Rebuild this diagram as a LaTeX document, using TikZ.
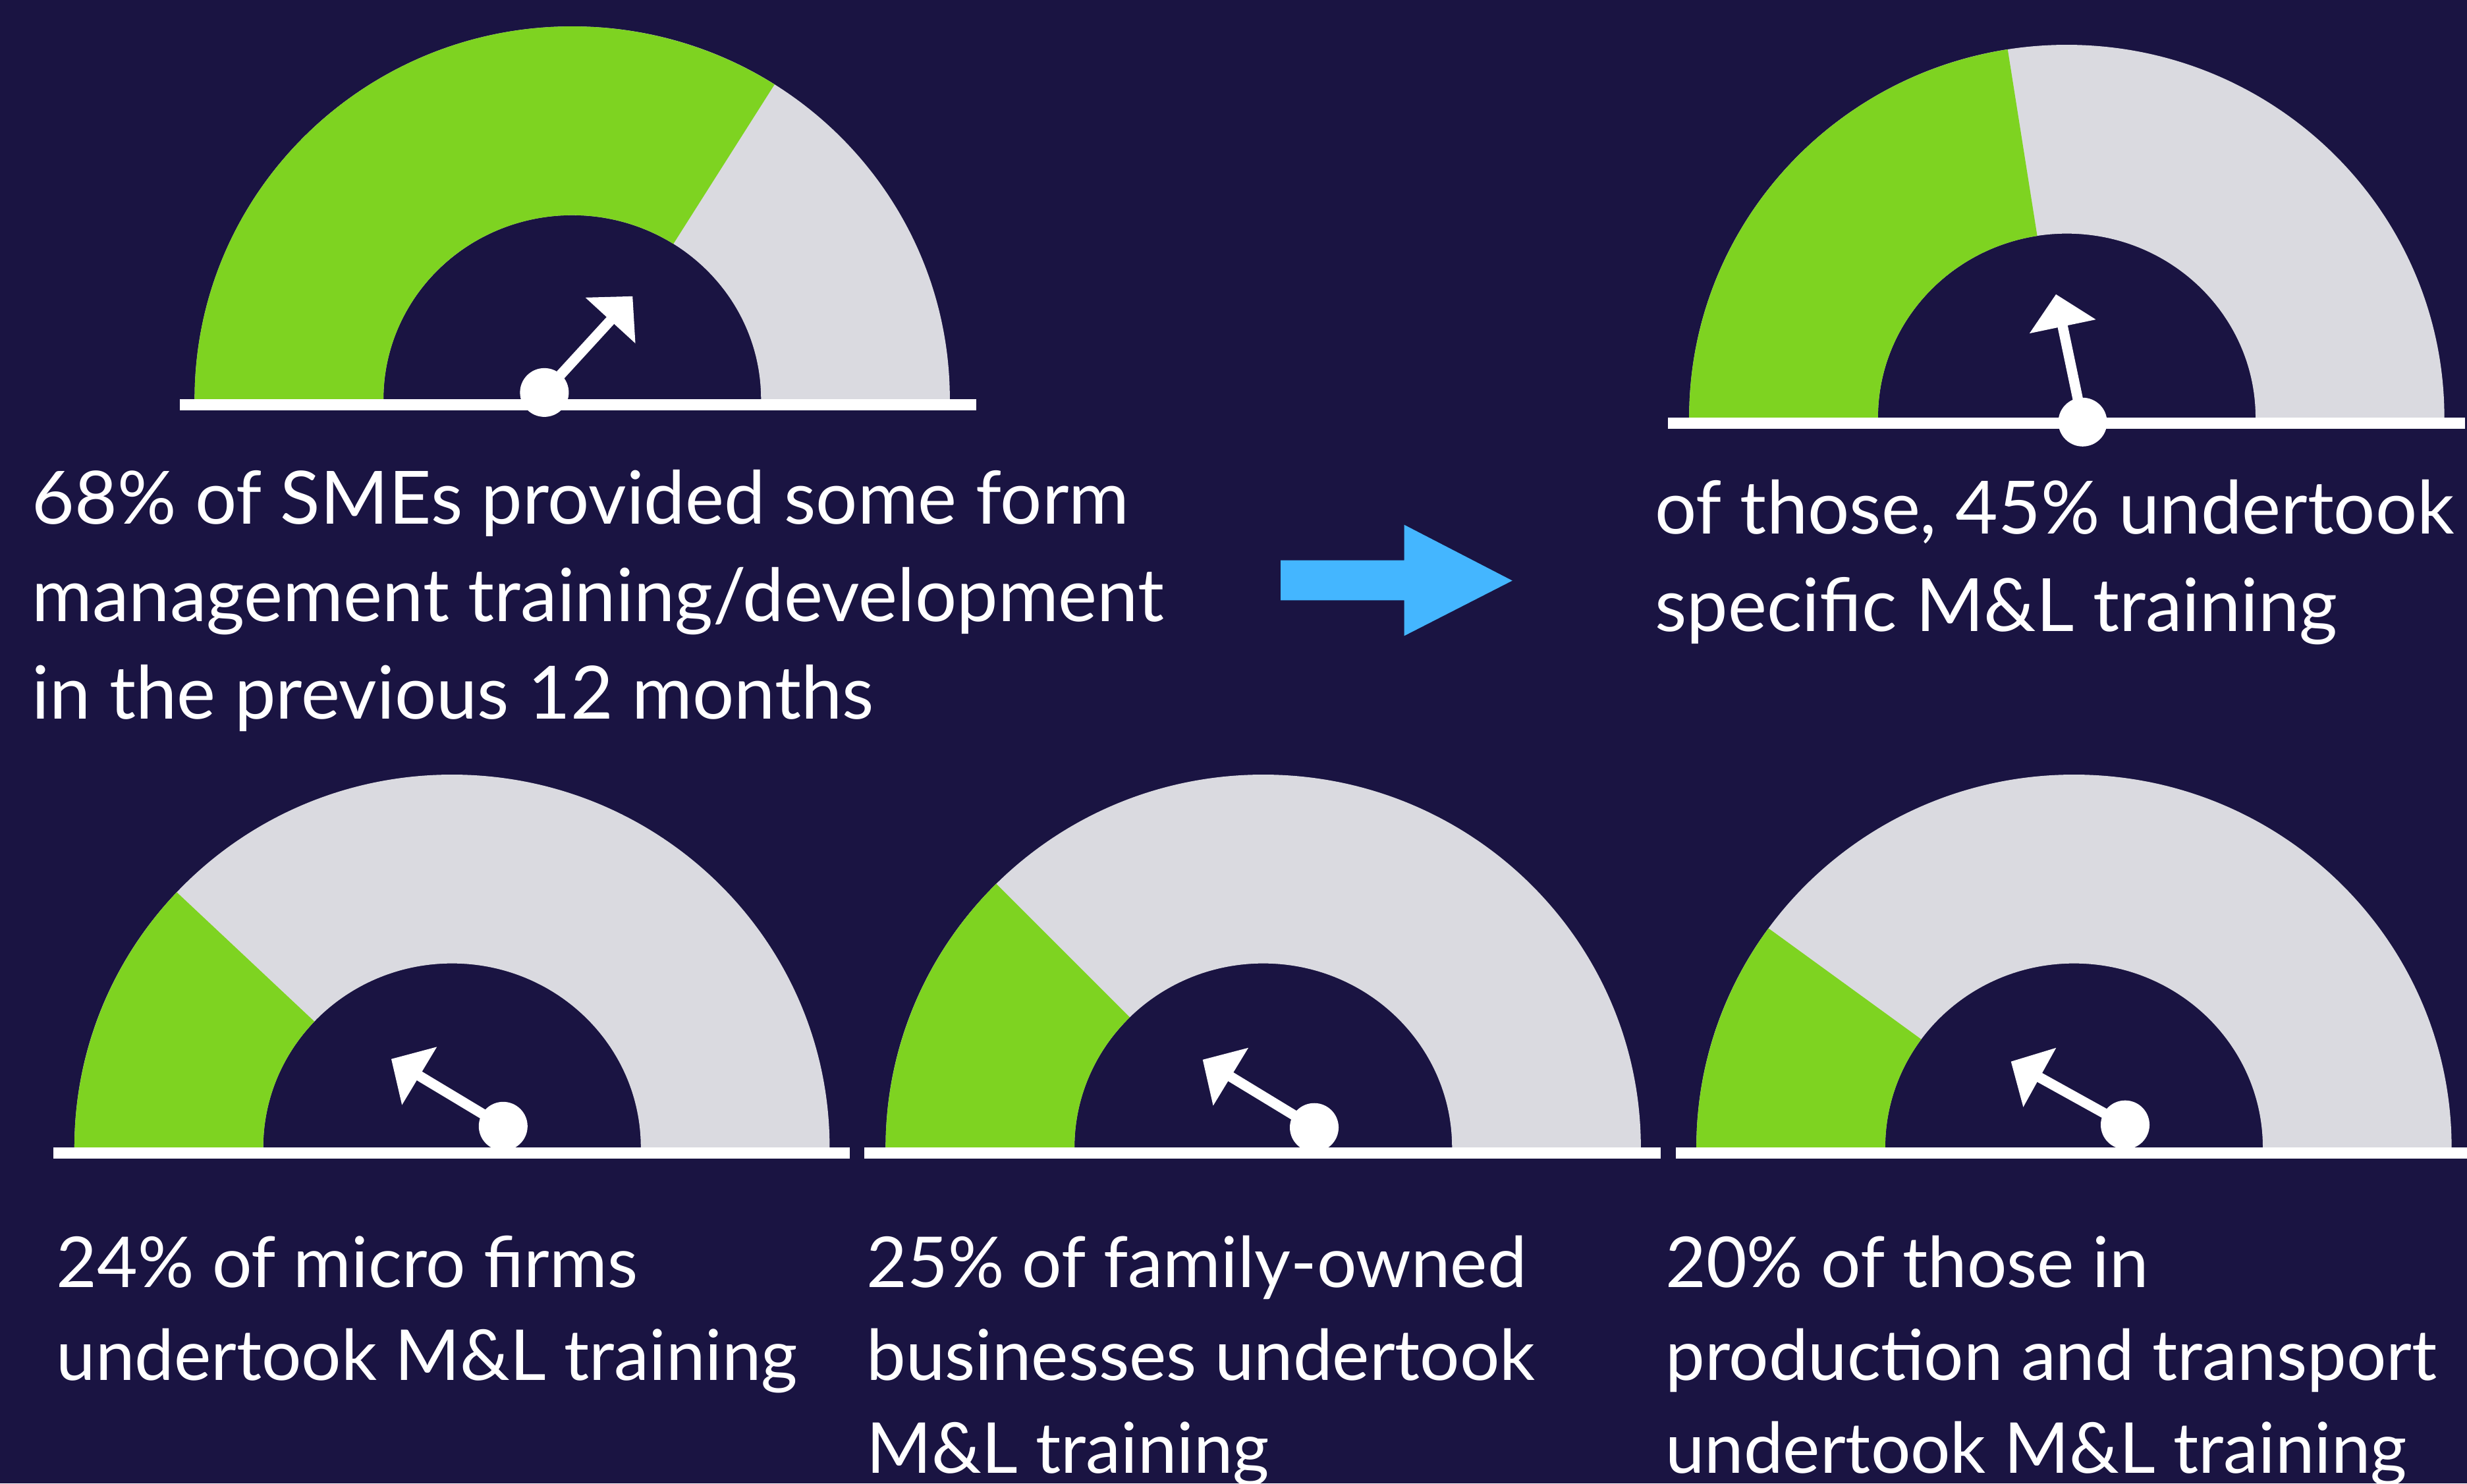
\documentclass[tikz,border=0pt]{standalone}
\usepackage{fontspec}
\setmainfont{Lato}
\usetikzlibrary{arrows.meta}
\definecolor{bgnavy}{HTML}{1A1442}
\definecolor{gaugegreen}{HTML}{7ED321}
\definecolor{gaugegrey}{HTML}{DADAE0}
\definecolor{arrowblue}{HTML}{44B6FF}

\begin{document}
\begin{tikzpicture}[x=0.02cm,y=0.02cm,
  stat/.style={anchor=base west,inner sep=0pt,align=left,text=white,font=\fontsize{26.6pt}{35.3pt}\selectfont},
  statsmall/.style={stat,font=\fontsize{25.4pt}{33.6pt}\selectfont},
  needle/.style={white,line width=3.7pt,line cap=butt,-{Triangle[length=11.9pt,width=23.8pt]}}]
  \fill[bgnavy] (0,0) rectangle (1568,943);
  \useasboundingbox (0,0) rectangle (1568,943);
  \foreach \i/\cx/\cy/\a/\xa/\xb/\px/\py/\na in {
      1/363.7/689.2/57.6/114.4/620.6/346/693.5/47.5,
      2/1313.6/677.5/99/1060.2/1566.6/1323.7/674.7/101.8,
      3/287.3/213.6/136.8/34/540.3/319.8/227.1/149,
      4/802.9/213.6/135/549.4/1055.7/835.3/226.3/148.7,
      5/1318.2/213.6/144/1065.3/1568/1350.7/228/151} {
    \begin{scope}[shift={(\cx,\cy)}]
      \fill[gaugegrey] (180:240 and 237) arc[start angle=180,end angle=0,x radius=240,y radius=237]
        -- (0:120 and 117) arc[start angle=0,end angle=180,x radius=120,y radius=117] -- cycle;
      \fill[gaugegreen] (180:240 and 237) arc[start angle=180,end angle=\a,x radius=240,y radius=237]
        -- (\a:120 and 117) arc[start angle=\a,end angle=180,x radius=120,y radius=117] -- cycle;
    \end{scope}
    \fill[white] (\xa,\cy-7.2) rectangle (\xb,\cy);
    \coordinate (piv\i) at (\px,\py);
    \draw[needle] (piv\i) -- ++(\na:83) coordinate (tip\i);
    \fill[white] (piv\i) circle[radius=15.5];
  }
  \fill[arrowblue] (814,586.8) -- (892.5,586.8) -- (892.5,609.4) -- (961.2,573.9)
    -- (892.5,538.8) -- (892.5,561.4) -- (814,561.4) -- cycle;
  \node[stat] (sme) at (20,485.9) {68\% of SMEs provided some form\\management training/development\\in the previous 12 months};
  \node[stat] (specific) at (1051.5,541.7) {of those, 45\% undertook\\specific M\&L training};
  \node[statsmall] (micro) at (35.5,65.7) {24\% of micro firms\\undertook M\&L training};
  \node[statsmall] (family) at (550.4,6.4) {25\% of family-owned\\businesses undertook\\M\&L training};
  \node[statsmall] (transport) at (1058.2,6.4) {20\% of those in\\production and transport\\undertook M\&L training};
\end{tikzpicture}
\end{document}
